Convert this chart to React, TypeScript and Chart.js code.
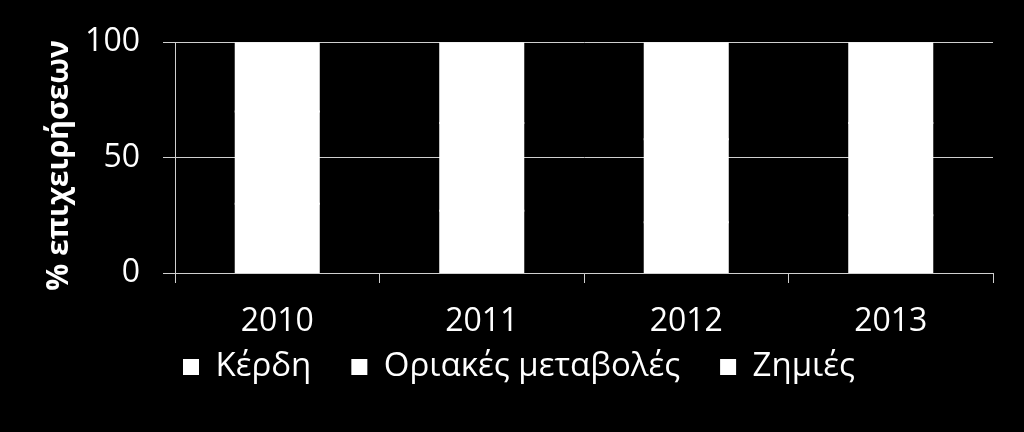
import React, { useEffect, useRef } from "react";
import { Chart, registerables } from "chart.js";

Chart.register(...registerables);

const years = ["2010", "2011", "2012", "2013"];
const profits = [30, 27, 22, 25];
const marginal = [40, 38, 36, 40];
const losses = [30, 35, 42, 35];
const seriesNames = ["Κέρδη", "Οριακές μεταβολές", "Ζημιές"];
const yTitle = "% επιχειρήσεων";

const FONT = "'Open Sans', 'Noto Sans', sans-serif";
const LEGEND_LIFT = 30;

const liftLegend = {
  id: "liftLegend",
  afterLayout(chart: any) {
    const l = chart.legend;
    if (l) {
      l.top -= LEGEND_LIFT;
      l.bottom -= LEGEND_LIFT;
    }
  },
};

export default function App() {
  const ref = useRef<HTMLCanvasElement>(null);
  useEffect(() => {
    if (!ref.current) return;
    const chart = new Chart(ref.current, {
      type: "bar",
      data: {
        labels: years,
        datasets: [
          { label: seriesNames[0], data: profits, backgroundColor: "#ffffff" },
          { label: seriesNames[1], data: marginal, backgroundColor: "#ffffff" },
          { label: seriesNames[2], data: losses, backgroundColor: "#ffffff" },
        ].map((d) => ({
          ...d,
          borderWidth: 0,
          inflateAmount: 1,
          categoryPercentage: 1,
          barPercentage: 0.406,
        })),
      },
      plugins: [liftLegend],
      options: {
        animation: false,
        responsive: false,
        layout: { padding: { top: 42, right: 31, bottom: 8.5, left: 45 } },
        plugins: {
          legend: {
            position: "bottom",
            labels: {
              color: "#ffffff",
              boxWidth: 16,
              boxHeight: 16,
              padding: 40,
              font: { family: FONT, size: 33 },
            },
          },
          tooltip: { enabled: false },
        },
        scales: {
          x: {
            stacked: true,
            afterFit: (s: any) => { s.height = 67.5; },
            grid: { display: true, drawOnChartArea: false, color: "#d0d0d0", tickLength: 10, offset: true },
            border: { display: true, color: "#d0d0d0" },
            ticks: { color: "#ffffff", padding: 20, font: { family: FONT, size: 32 } },
          },
          y: {
            stacked: true,
            min: 0,
            max: 100,
            afterFit: (s: any) => { s.width = 130; },
            grid: { color: "#d0d0d0", tickLength: 12 },
            border: { display: true, color: "#d0d0d0" },
            ticks: { stepSize: 50, color: "#ffffff", padding: 23, font: { family: FONT, size: 32 } },
            title: {
              display: true,
              text: yTitle + "\u00a0\u00a0",
              color: "#ffffff",
              padding: { top: -4, bottom: 0 },
              font: { family: FONT, size: 30, weight: "bold" },
            },
          },
        },
      },
    });
    return () => chart.destroy();
  }, []);
  return (
    <div style={{ position: "absolute", left: 0, top: 0, width: 1024, height: 432, background: "#000" }}>
      <canvas ref={ref} width={1024} height={432} />
    </div>
  );
}
